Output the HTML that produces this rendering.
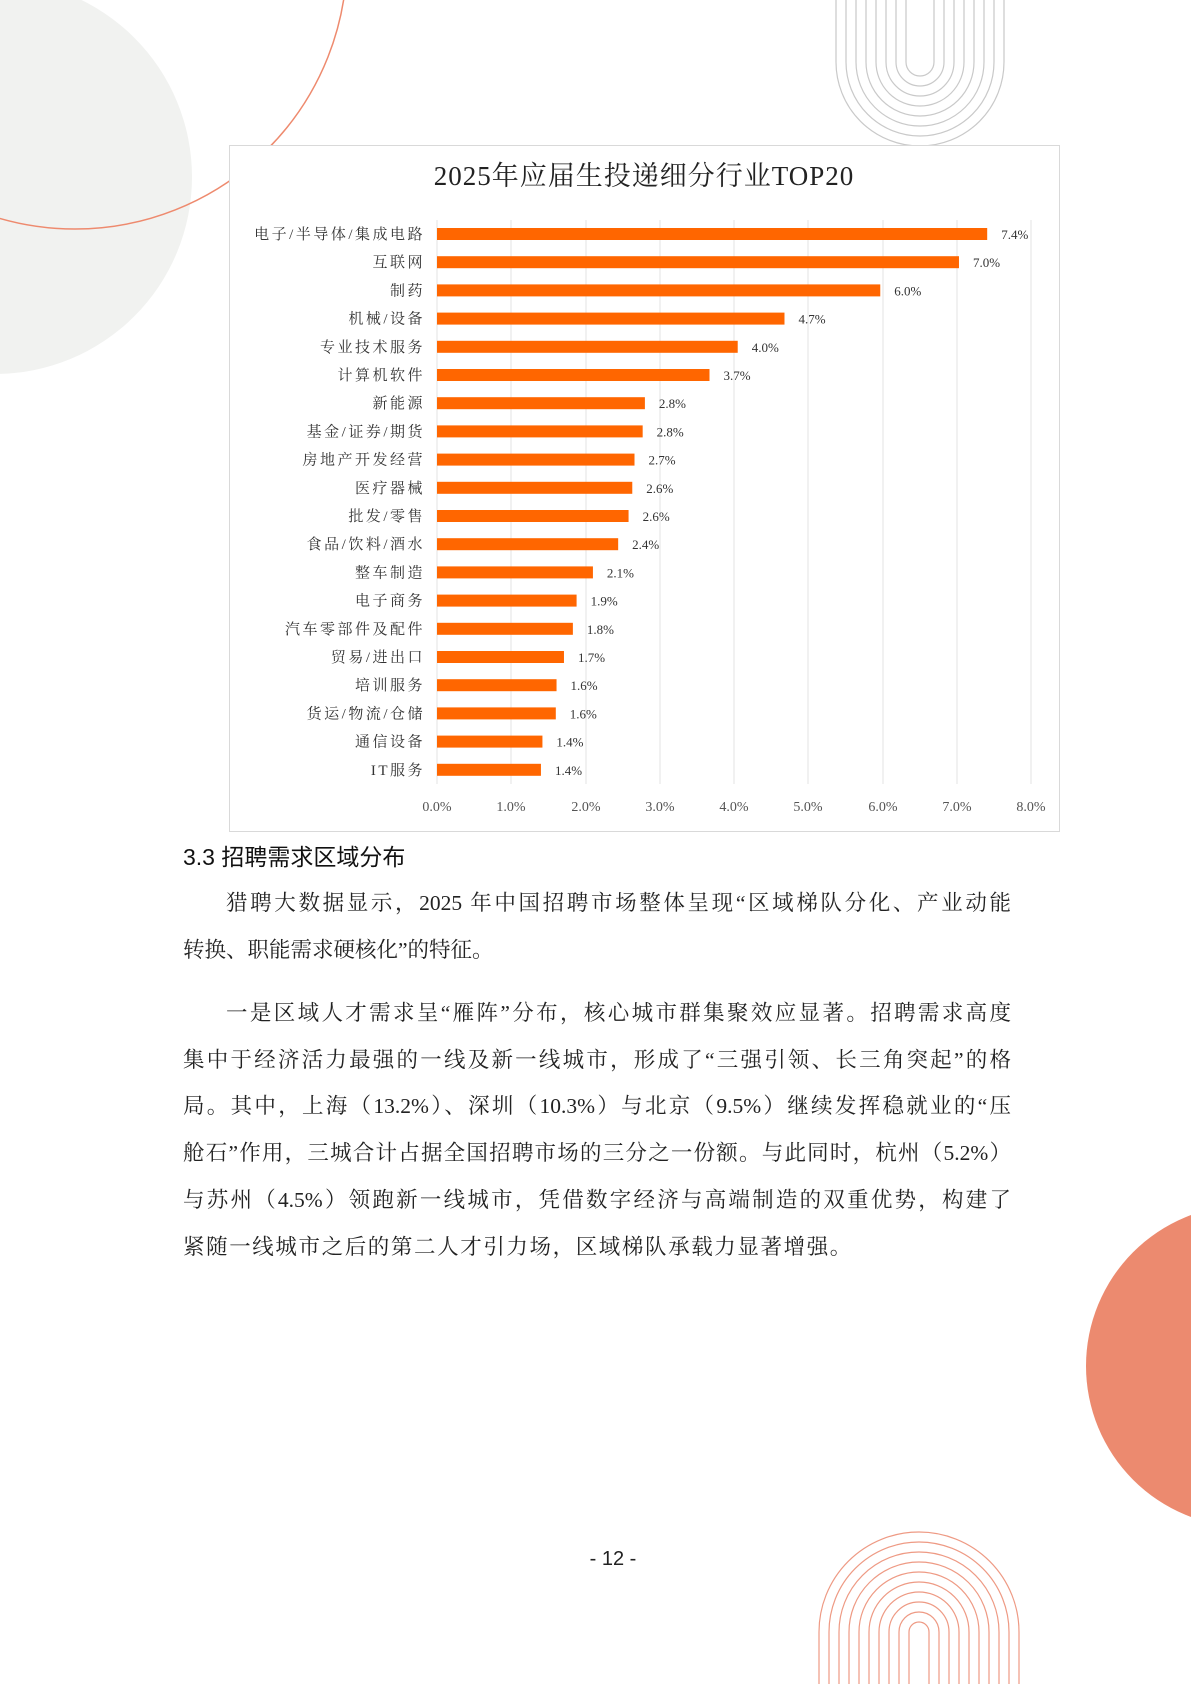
<!DOCTYPE html>
<html><head><meta charset="utf-8"><style>
body{margin:0;width:1191px;height:1684px;position:relative;overflow:hidden;background:#fff;font-family:"Liberation Serif","Noto Serif CJK SC",serif;}
.abs{position:absolute}
.h{left:183px;top:838px;font-family:"Liberation Sans","Noto Sans CJK SC",sans-serif;font-size:23px;color:#111;}
.ln{position:absolute;left:183px;width:828px;font-size:21.5px;line-height:30px;color:#222;text-align:justify;text-align-last:justify;white-space:nowrap}
.ln.last{text-align-last:left}
.ind{padding-left:43px;width:785px}
</style></head><body>
<svg class="abs" style="left:0;top:0" width="1191" height="1684">
<circle cx="-5" cy="177" r="197" fill="#f1f2f0"/>
<circle cx="75" cy="-43" r="272" fill="none" stroke="#ee8a6e" stroke-width="1.5"/>
<circle cx="1247" cy="1366" r="161" fill="#ec8a6f"/>
<g fill="none" stroke="#c9c9c9" stroke-width="1.2">
<path d="M836 0 V62 A84 84 0 0 0 1004 62 V0"/>
<path d="M846 0 V62 A74 74 0 0 0 994 62 V0"/>
<path d="M856 0 V62 A64 64 0 0 0 984 62 V0"/>
<path d="M866 0 V62 A54 54 0 0 0 974 62 V0"/>
<path d="M876 0 V62 A44 44 0 0 0 964 62 V0"/>
<path d="M886 0 V62 A34 34 0 0 0 954 62 V0"/>
<path d="M896 0 V62 A24 24 0 0 0 944 62 V0"/>
<path d="M906 0 V62 A14 14 0 0 0 934 62 V0"/>
</g>
<g fill="none" stroke="#ee9a84" stroke-width="1.2">
<path d="M819 1684 V1632 A100 100 0 0 1 1019 1632 V1684"/>
<path d="M829 1684 V1632 A90 90 0 0 1 1009 1632 V1684"/>
<path d="M839 1684 V1632 A80 80 0 0 1 999 1632 V1684"/>
<path d="M849 1684 V1632 A70 70 0 0 1 989 1632 V1684"/>
<path d="M859 1684 V1632 A60 60 0 0 1 979 1632 V1684"/>
<path d="M869 1684 V1632 A50 50 0 0 1 969 1632 V1684"/>
<path d="M879 1684 V1632 A40 40 0 0 1 959 1632 V1684"/>
<path d="M889 1684 V1632 A30 30 0 0 1 949 1632 V1684"/>
<path d="M899 1684 V1632 A20 20 0 0 1 939 1632 V1684"/>
<path d="M909 1684 V1632 A10 10 0 0 1 929 1632 V1684"/>
</g>
<rect x="229.5" y="145.5" width="830" height="686" fill="#fff" stroke="#d9d9d9"/>
<text x="644" y="185" text-anchor="middle" font-size="27" fill="#222" letter-spacing="1" font-family="Liberation Serif, Noto Serif CJK SC, serif">2025年应届生投递细分行业TOP20</text>
<g stroke="#e3e3e3" stroke-width="1">
<line x1="437" y1="220" x2="437" y2="784"/><line x1="511" y1="220" x2="511" y2="784"/><line x1="586" y1="220" x2="586" y2="784"/><line x1="660" y1="220" x2="660" y2="784"/><line x1="734" y1="220" x2="734" y2="784"/><line x1="808" y1="220" x2="808" y2="784"/><line x1="883" y1="220" x2="883" y2="784"/><line x1="957" y1="220" x2="957" y2="784"/><line x1="1031" y1="220" x2="1031" y2="784"/>
</g>
<g font-size="14" fill="#555" text-anchor="middle">
<text x="437" y="811">0.0%</text><text x="511" y="811">1.0%</text><text x="586" y="811">2.0%</text><text x="660" y="811">3.0%</text><text x="734" y="811">4.0%</text><text x="808" y="811">5.0%</text><text x="883" y="811">6.0%</text><text x="957" y="811">7.0%</text><text x="1031" y="811">8.0%</text>
</g>
<g id="bars" fill="#ff6600"></g>
<g id="lab" font-size="15" fill="#333" text-anchor="end" letter-spacing="2.5" font-family="Liberation Serif, Noto Serif CJK SC, serif"></g>
<g id="val" font-size="13" fill="#333"></g>
</svg>
<div class="abs h">3.3 招聘需求区域分布</div>
<div class="ln ind" style="top:888px">猎聘大数据显示，2025 年中国招聘市场整体呈现“区域梯队分化、产业动能</div>
<div class="ln last" style="top:935px">转换、职能需求硬核化”的特征。</div>
<div class="ln ind" style="top:998px">一是区域人才需求呈“雁阵”分布，核心城市群集聚效应显著。招聘需求高度</div>
<div class="ln" style="top:1045px">集中于经济活力最强的一线及新一线城市，形成了“三强引领、长三角突起”的格</div>
<div class="ln" style="top:1091px">局。其中，上海（13.2%）、深圳（10.3%）与北京（9.5%）继续发挥稳就业的“压</div>
<div class="ln" style="top:1138px">舱石”作用，三城合计占据全国招聘市场的三分之一份额。与此同时，杭州（5.2%）</div>
<div class="ln" style="top:1185px">与苏州（4.5%）领跑新一线城市，凭借数字经济与高端制造的双重优势，构建了</div>
<div class="ln last" style="top:1232px;letter-spacing:1.6px">紧随一线城市之后的第二人才引力场，区域梯队承载力显著增强。</div>
<div class="abs" style="left:0;width:1226px;top:1548px;text-align:center;font-family:'Liberation Sans',sans-serif;font-size:20px;color:#222">- 12 -</div>
<script>
var d=[["电子/半导体/集成电路",7.4],["互联网",7.0],["制药",6.0],["机械/设备",4.7],["专业技术服务",4.0],["计算机软件",3.7],["新能源",2.8],["基金/证券/期货",2.8],["房地产开发经营",2.7],["医疗器械",2.6],["批发/零售",2.6],["食品/饮料/酒水",2.4],["整车制造",2.1],["电子商务",1.9],["汽车零部件及配件",1.8],["贸易/进出口",1.7],["培训服务",1.6],["货运/物流/仓储",1.6],["通信设备",1.4],["IT服务",1.4]];
var w=[7.41,7.03,5.97,4.68,4.05,3.67,2.8,2.77,2.66,2.63,2.58,2.44,2.1,1.88,1.83,1.71,1.61,1.6,1.42,1.4];
var ns="http://www.w3.org/2000/svg",b=document.getElementById('bars'),l=document.getElementById('lab'),v=document.getElementById('val');
d.forEach(function(r,i){var y=234+i*28.2;var bw=w[i]*74.25;
var e=document.createElementNS(ns,'rect');e.setAttribute('x',437);e.setAttribute('y',y-6);e.setAttribute('width',bw);e.setAttribute('height',12);b.appendChild(e);
var t=document.createElementNS(ns,'text');t.setAttribute('x',425);t.setAttribute('y',y+5);t.textContent=r[0];l.appendChild(t);
var s=document.createElementNS(ns,'text');s.setAttribute('x',437+bw+14);s.setAttribute('y',y+5);s.textContent=r[1].toFixed(1)+'%';v.appendChild(s);});
</script>
</body></html>
